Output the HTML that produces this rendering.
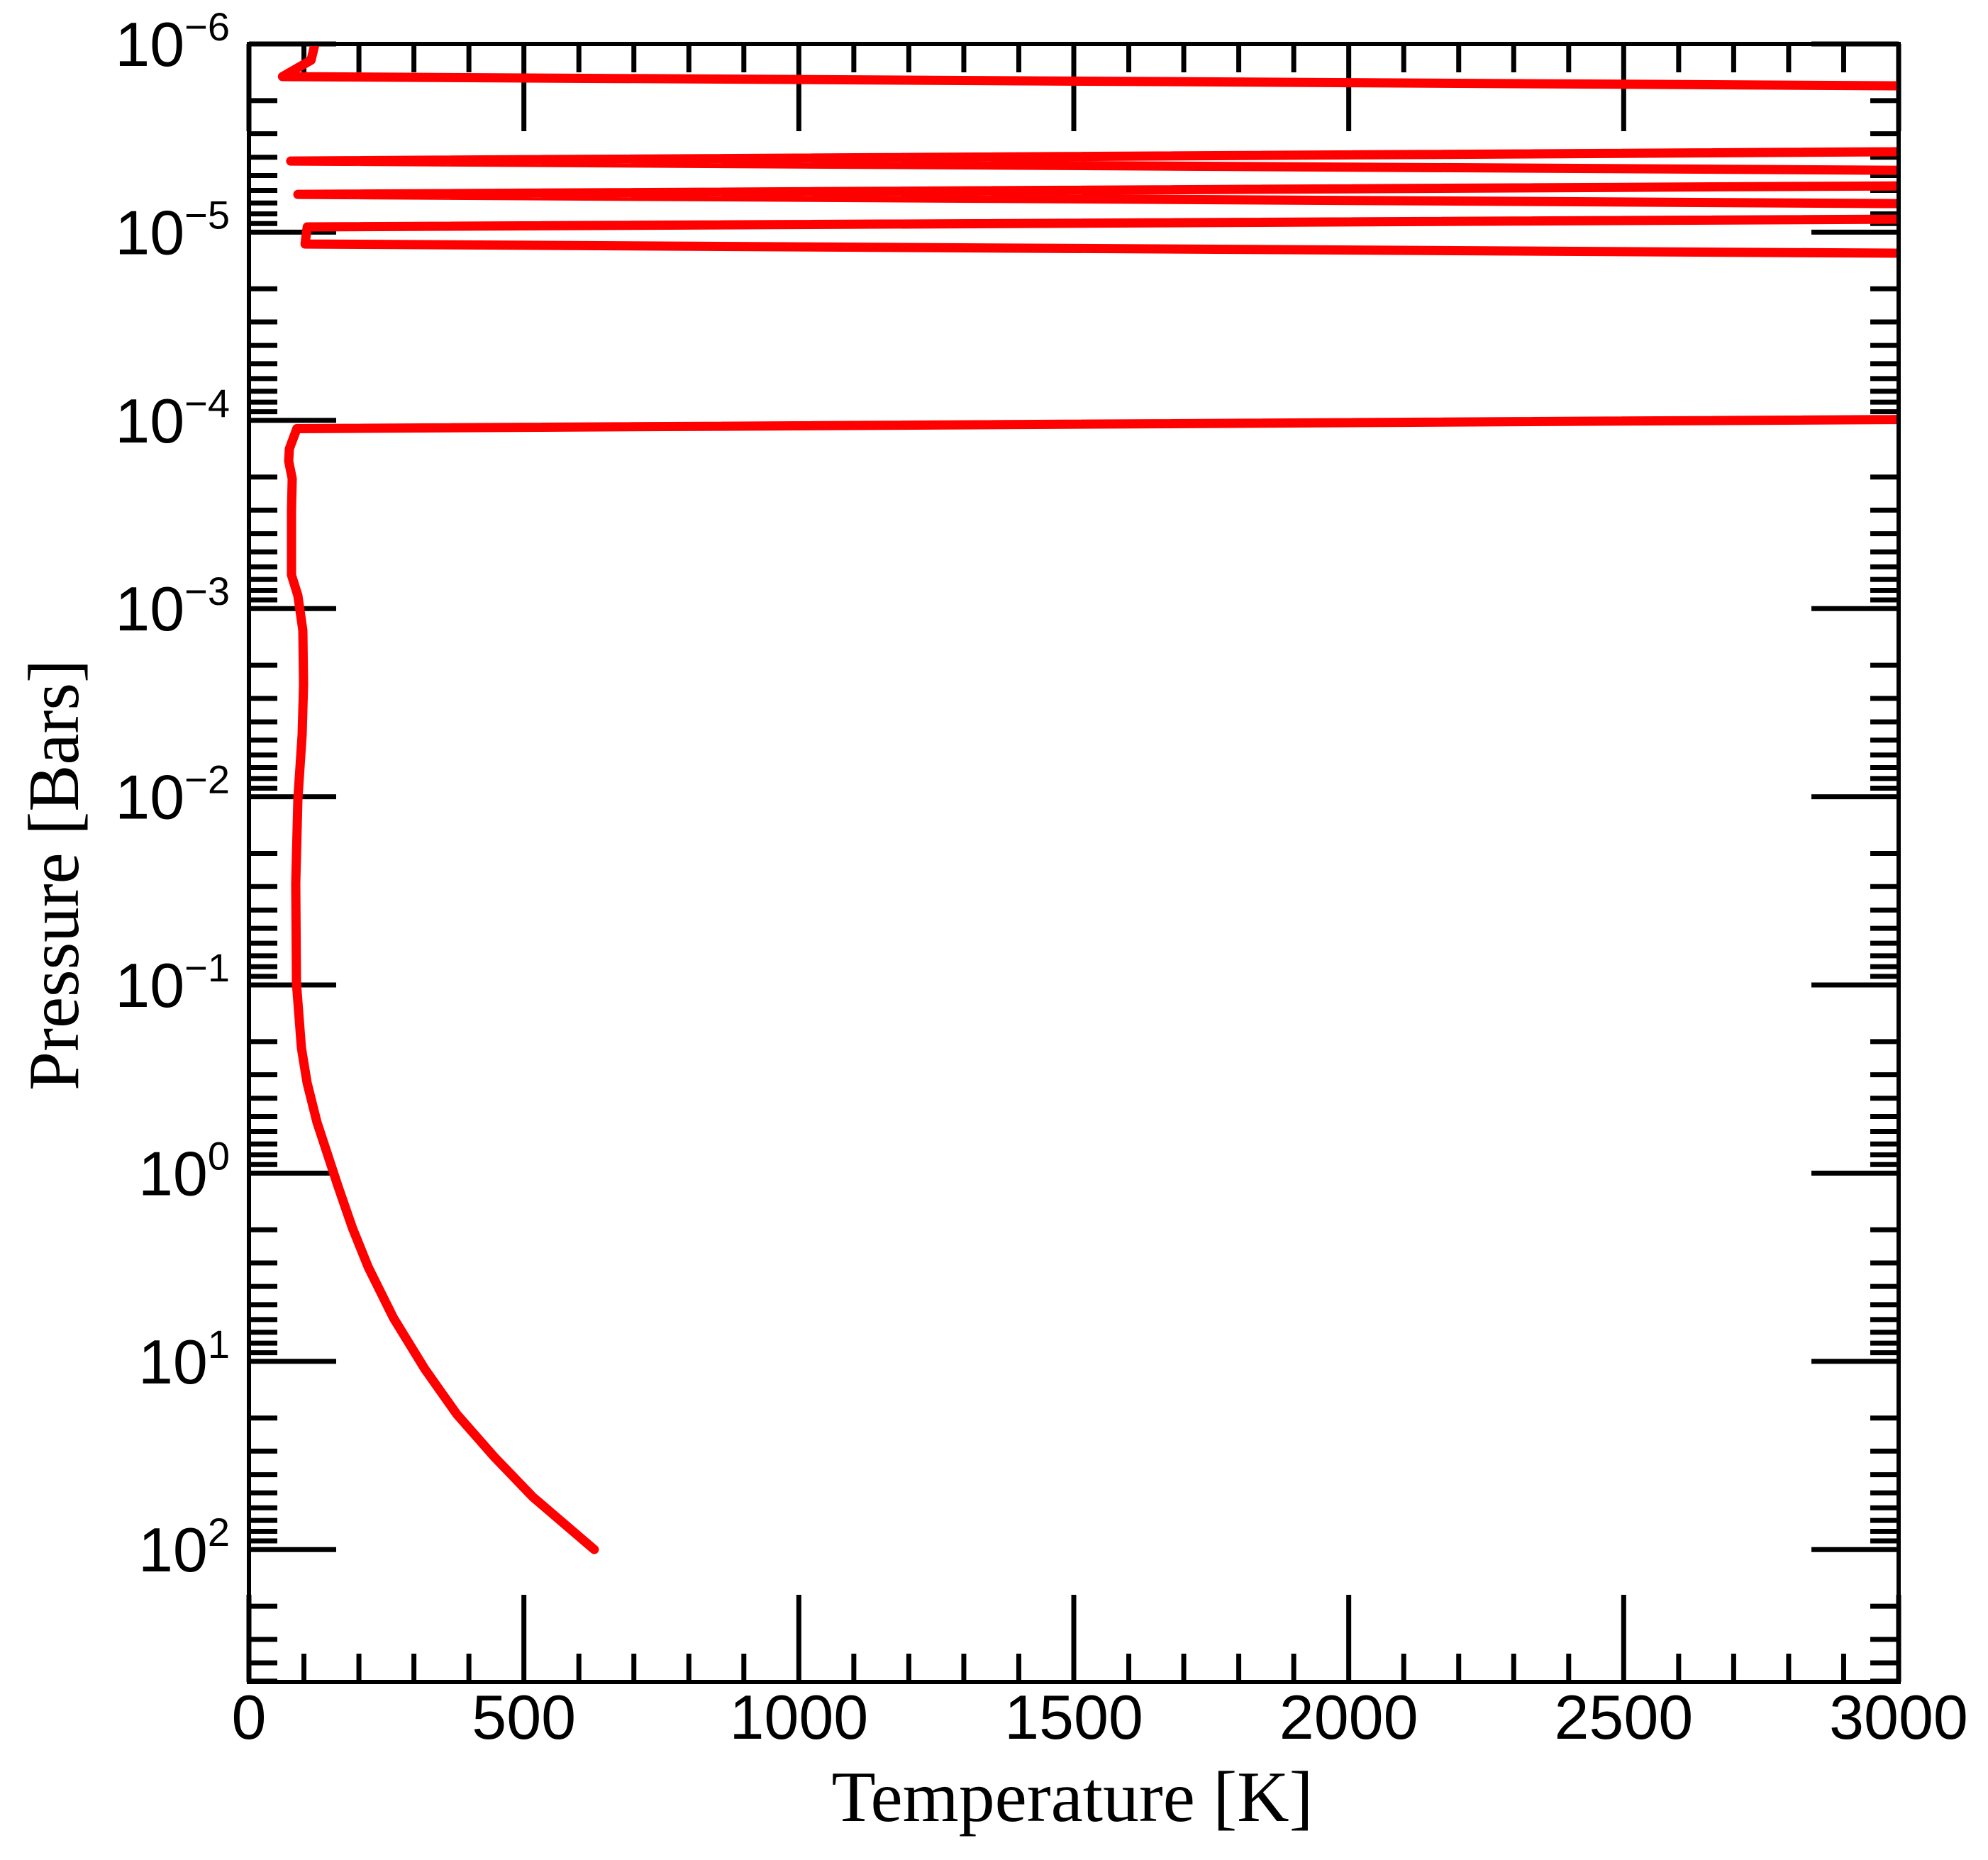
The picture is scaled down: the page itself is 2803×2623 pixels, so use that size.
<!DOCTYPE html>
<html><head><meta charset="utf-8"><style>html,body{margin:0;padding:0;background:#fff}svg{display:block}</style></head>
<body>
<svg id="chart" width="2803" height="2623" viewBox="0 0 2803 2623" xmlns="http://www.w3.org/2000/svg">
<defs><clipPath id="plotclip"><rect x="351" y="62" width="2326" height="2310"/></clipPath></defs>
<g id="ticks"></g>
<g id="labels"></g>
<g clip-path="url(#plotclip)"><path id="profile" fill="none" stroke="#ff0000" stroke-width="13" stroke-linejoin="round" stroke-linecap="round"/></g>
<rect x="351" y="62" width="2326" height="2310" fill="none" stroke="#000" stroke-width="6"/>
<text x="1512" y="2568" font-family="Liberation Serif, serif" font-size="102" text-anchor="middle" textLength="679" lengthAdjust="spacingAndGlyphs">Temperature [K]</text>
<text transform="translate(110,1234) rotate(-90)" font-family="Liberation Serif, serif" font-size="102" text-anchor="middle" textLength="608" lengthAdjust="spacingAndGlyphs">Pressure [Bars]</text>
</svg>
<script>
const temps = [119,113,61,13400,76,5568,89,5661,106,102,29270,87,73.5,72.2,78.7,77.4,77.4,89,98,99.3,96.7,89,85.1,86.4,95.4,105.8,123.8,162.5,188,217,263,320,378,447,516,628];
const pressures = [1.03e-6,1.22e-6,1.49e-6,2.49e-6,4.19e-6,5.18e-6,6.30e-6,7.82e-6,9.38e-6,1.156e-5,3.60e-5,1.107e-4,1.416e-4,1.644e-4,2.04e-4,3.01e-4,6.64e-4,8.53e-4,1.306e-3,2.55e-3,4.68e-3,1.03e-2,2.89e-2,9.8e-2,0.216,0.331,0.538,1.186,1.95,3.16,5.89,11.0,19.1,32.4,52.5,100];
const xTicks = [0,500,1000,1500,2000,2500,3000];
const xTickLabels = ["0","500","1000","1500","2000","2500","3000"];
const yDecades = [-6,-5,-4,-3,-2,-1,0,1,2];
const yExpLabels = ["\u22126","\u22125","\u22124","\u22123","\u22122","\u22121","0","1","2"];

const L=351,R=2677,T=62,B=2372,DEC=265.4;
function xs(t){return L+(t)*(R-L)/3000;}
function ys(p){return T+(Math.log10(p)+6)*DEC;}
const NS="http://www.w3.org/2000/svg";
const tg=document.getElementById('ticks'), lg=document.getElementById('labels');
function line(x1,y1,x2,y2,name){const l=document.createElementNS(NS,'line');
l.setAttribute('x1',x1);l.setAttribute('y1',y1);l.setAttribute('x2',x2);l.setAttribute('y2',y2);
l.setAttribute('stroke','#000');l.setAttribute('stroke-width','7');


tg.appendChild(l);}
for(let v=0;v<=3000;v+=100){const x=xs(v);const major=v%500===0;const len=major?123:40;
line(x,B,x,B-len,'x-tick');line(x,T,x,T+len,'x-tick-top');}
for(let d=-6;d<=2;d++){for(let m=1;m<10;m++){const p=m*Math.pow(10,d);if(p>500)break;const y=ys(p);
const len=m===1?123:40;line(L,y,L+len,y,'y-tick');line(R,y,R-len,y,'y-tick-right');}}
xTicks.forEach((v,i)=>{const t=document.createElementNS(NS,'text');
t.setAttribute('x',xs(v));t.setAttribute('y',2452);t.setAttribute('text-anchor','middle');
t.setAttribute('font-family','Liberation Sans, sans-serif');t.setAttribute('font-size','88');
t.textContent=xTickLabels[i];


lg.appendChild(t);});
yDecades.forEach((d,i)=>{const y=ys(Math.pow(10,d));const t=document.createElementNS(NS,'text');
t.setAttribute('x',324);t.setAttribute('y',y+31);t.setAttribute('text-anchor','end');
t.setAttribute('font-family','Liberation Sans, sans-serif');t.setAttribute('font-size','88');
const a=document.createElementNS(NS,'tspan');a.textContent='10';
const b=document.createElementNS(NS,'tspan');b.setAttribute('font-size','56');b.setAttribute('dy','-36');b.textContent=yExpLabels[i];
t.appendChild(a);t.appendChild(b);


lg.appendChild(t);});
let dstr='';temps.forEach((v,i)=>{dstr+=(i?'L':'M')+xs(v).toFixed(1)+' '+ys(pressures[i]).toFixed(1)+' ';});
document.getElementById('profile').setAttribute('d',dstr);
</script>
</body></html>
